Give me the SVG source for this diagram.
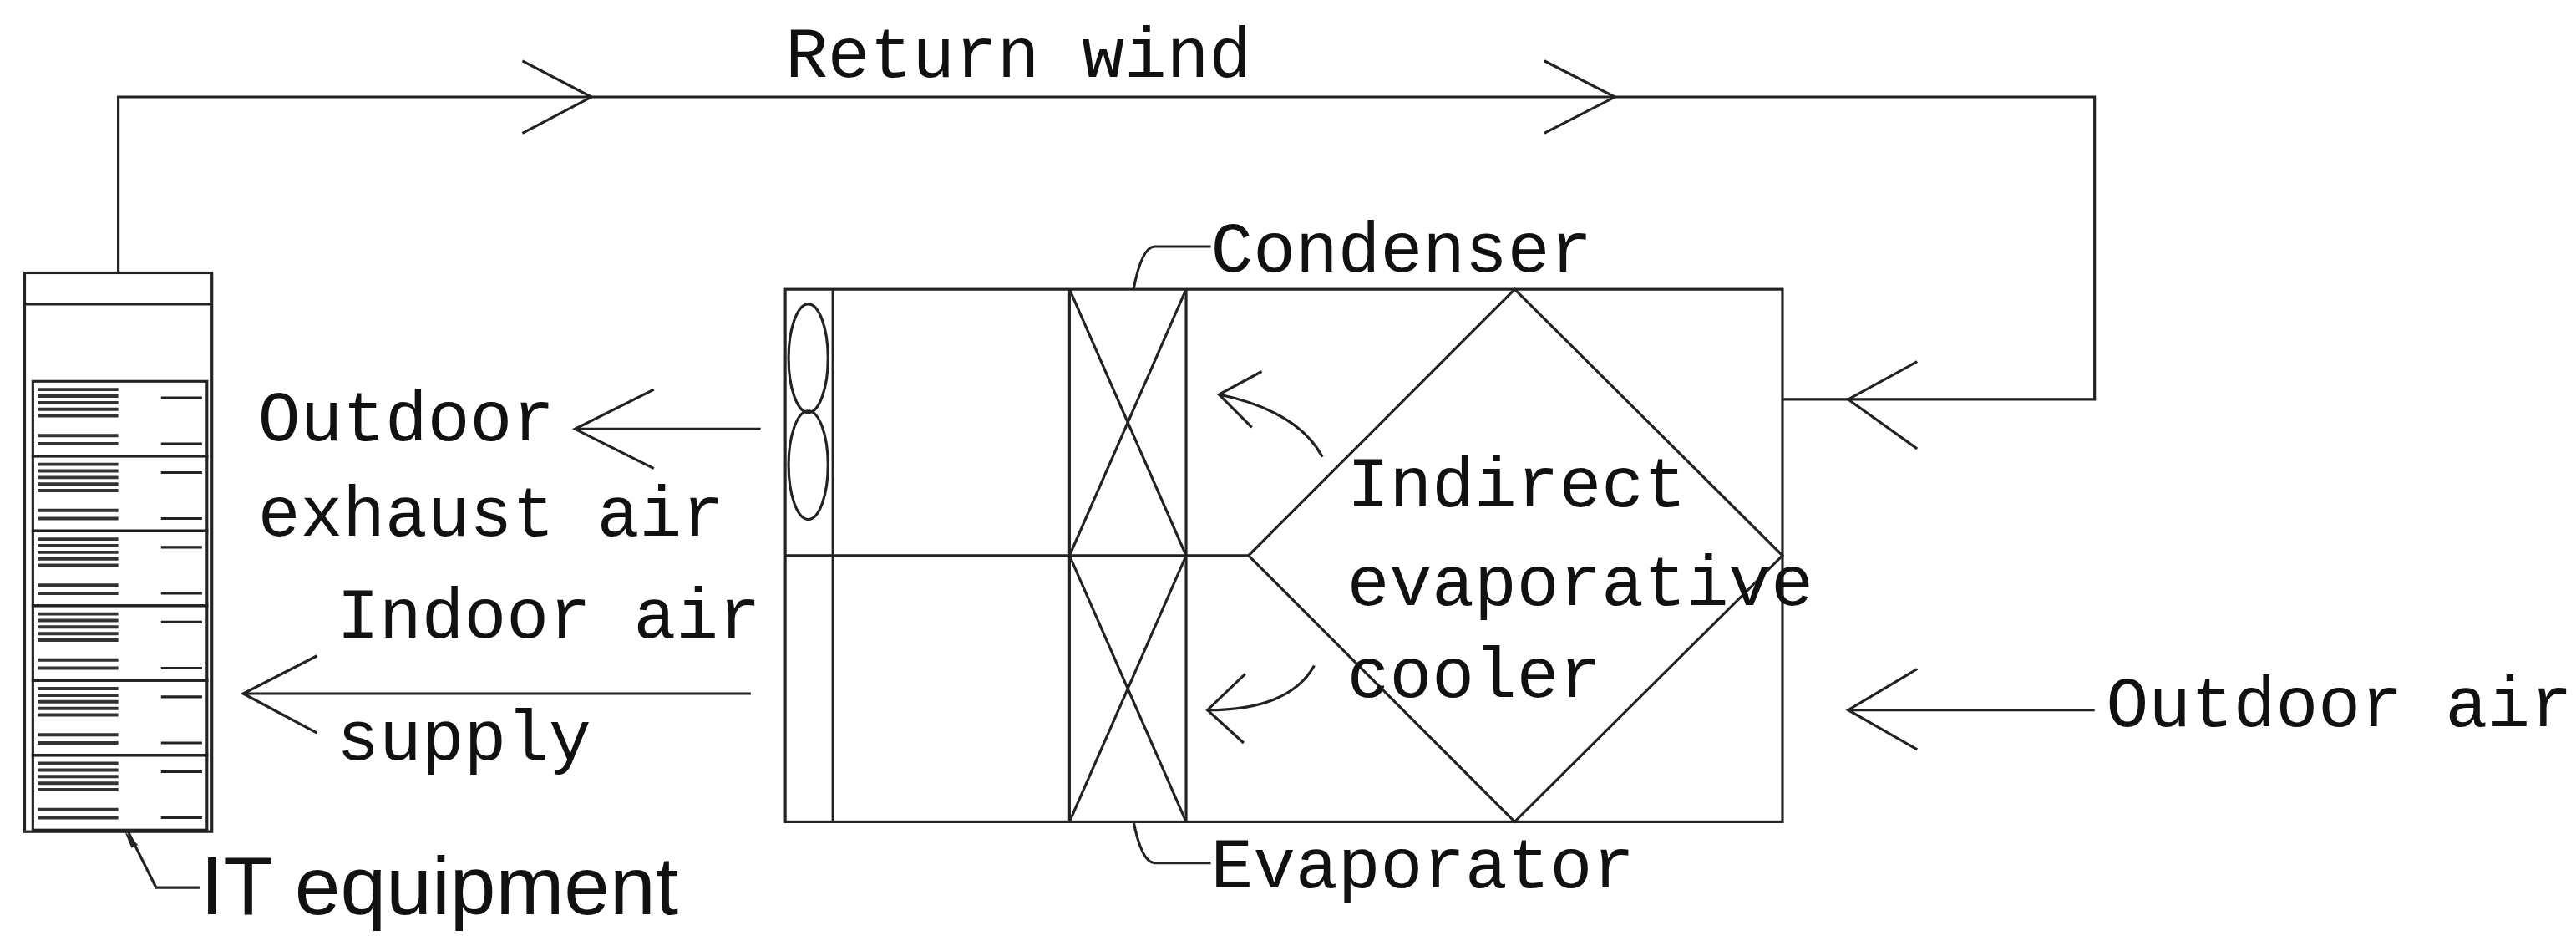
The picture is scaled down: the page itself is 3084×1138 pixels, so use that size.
<svg xmlns="http://www.w3.org/2000/svg" width="3084" height="1138" viewBox="0 0 3084 1138">
<style>
.l{fill:none;stroke:#222;stroke-width:1.6}
.t{font-family:"Liberation Mono",monospace;font-size:43px;fill:#111}
.s{font-family:"Liberation Sans",Arial,sans-serif;font-size:50px;fill:#111}
.g{stroke:#333;stroke-width:2}
</style>
<defs>
<g id="unit">
<rect x="20" y="0" width="106" height="45.5" class="l" stroke-width="2.2"/>
<path class="g" d="M23 5H72M23 9H72M23 13H72M23 17H72M23 21H72M23 33H72M23 38H72"/>
<path class="l" d="M98 10H123M98 38H123"/>
</g>
</defs>
<rect width="3084" height="1138" fill="#fff"/>
<g transform="scale(1.9668)">
<g id="connectors">
<path class="l" d="M72 166V59H1275V243H1085"/>
<path class="l" d="M318 37L360 59L318 81M940 37L983 59L940 81M1167 220L1125 243L1167 273"/>
<path class="l" d="M463 261H350M398 237L350 261L398 285"/>
<path class="l" d="M457 422H148M193 399L148 422L193 446"/>
<path class="l" d="M1275 432H1125M1167 407L1125 432L1167 456"/>
<path class="l" d="M805 278Q790 250 742 240M768 226L742 240L762 260"/>
<path class="l" d="M800 405Q785 432 735 432M758 410L735 432L757 452"/>
<path class="l" d="M690 176Q695 150 703 150H737"/>
<path class="l" d="M690 500Q695 525 703 525H737"/>
<path class="l" d="M78 506L95 540H122"/>
<path d="M76 506L84 514L80 516Z" fill="#222"/>
</g>
<g id="rack">
<rect x="15" y="166" width="114" height="340" class="l" stroke-width="2.2"/>
<path class="l" d="M15 185H129"/>
<use href="#unit" y="232"/><use href="#unit" y="277.5"/><use href="#unit" y="323"/>
<use href="#unit" y="368.5"/><use href="#unit" y="414"/><use href="#unit" y="459.5"/>
</g>
<g id="unitbox">
<rect x="478" y="176" width="607" height="324" class="l"/>
<path class="l" d="M507 176V500M478 338H760M651 176V500M722 176V500"/>
<path class="l" d="M651 176L722 338L651 500M722 176L651 338L722 500"/>
<ellipse cx="492" cy="218" rx="12" ry="33" class="l"/>
<ellipse cx="492" cy="283" rx="12" ry="33" class="l"/>
<path class="l" d="M922 176L1085 338L922 500L760 338Z"/>
</g>
<g id="labels">
<text class="t" x="478" y="47">Return wind</text>
<text class="t" x="737" y="165">Condenser</text>
<text class="t" x="737" y="540">Evaporator</text>
<text class="t" x="157" y="268">Outdoor</text>
<text class="t" x="157" y="326">exhaust air</text>
<text class="t" x="205" y="388">Indoor air</text>
<text class="t" x="205" y="462">supply</text>
<text class="t" x="1282" y="442">Outdoor air</text>
<text class="t" x="820" y="308">Indirect</text>
<text class="t" x="820" y="368">evaporative</text>
<text class="t" x="820" y="424">cooler</text>
<text class="s" x="122" y="556">IT equipment</text>
</g>
</g>
</svg>
